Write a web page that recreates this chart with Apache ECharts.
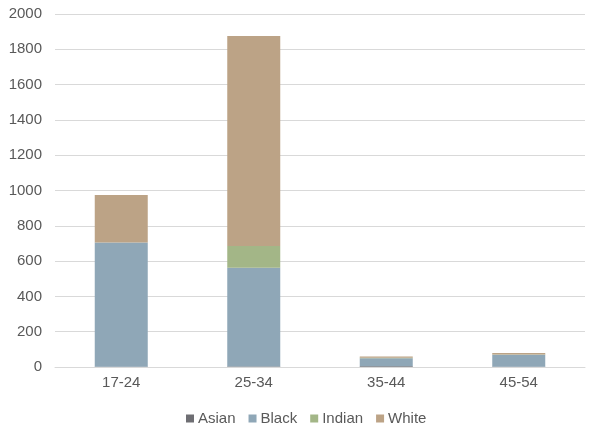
<!DOCTYPE html>
<html><head><meta charset="utf-8">
<script src="https://cdn.jsdelivr.net/npm/echarts@6/dist/echarts.min.js"></script>
<style>html,body{margin:0;padding:0;background:#fff}#c{width:589px;height:430px}</style>
</head><body><div id="c"></div>
<script>
const categories = ['17-24', '25-34', '35-44', '45-54'];
const asian  = [2, 3, 4, 2];
const black  = [704, 560, 46, 68];
const indian = [0, 123, 2, 1];
const white  = [268, 1189, 8, 8];
const yTicks = [0, 200, 400, 600, 800, 1000, 1200, 1400, 1600, 1800, 2000];

const names = ['Asian', 'Black', 'Indian', 'White'];
const colors = ['#6e6e73', '#8fa7b7', '#a3b687', '#bca386'];
const datas = [asian, black, indian, white];

const chart = echarts.init(document.getElementById('c'));
chart.setOption({
  animation: false,
  textStyle: { fontFamily: 'Liberation Sans, Arial, sans-serif' },
  grid: { left: 55, right: 4, top: 14, bottom: 63 },
  legend: {
    bottom: -1, left: 181, itemWidth: 8, itemHeight: 8, itemGap: 13,
    icon: 'rect',
    textStyle: { color: '#595959', fontSize: 15, padding: [0, 0, 0, -1] },
    data: names
  },
  xAxis: {
    type: 'category', data: categories,
    axisLine: { lineStyle: { color: '#d9d9d9', width: 1 } },
    axisTick: { show: false },
    axisLabel: { color: '#595959', fontSize: 15, margin: 8 }
  },
  yAxis: {
    type: 'value', min: yTicks[0], max: yTicks[yTicks.length - 1], interval: 200,
    axisLine: { show: false }, axisTick: { show: false },
    axisLabel: { color: '#595959', fontSize: 15, margin: 13, formatter: v => String(v) },
    splitLine: { lineStyle: { color: '#d9d9d9', width: 1 } }
  },
  series: names.map((n, i) => ({
    name: n, type: 'bar', stack: 'total', data: datas[i],
    barWidth: '40%',
    itemStyle: { color: colors[i] }
  }))
});
</script></body></html>
